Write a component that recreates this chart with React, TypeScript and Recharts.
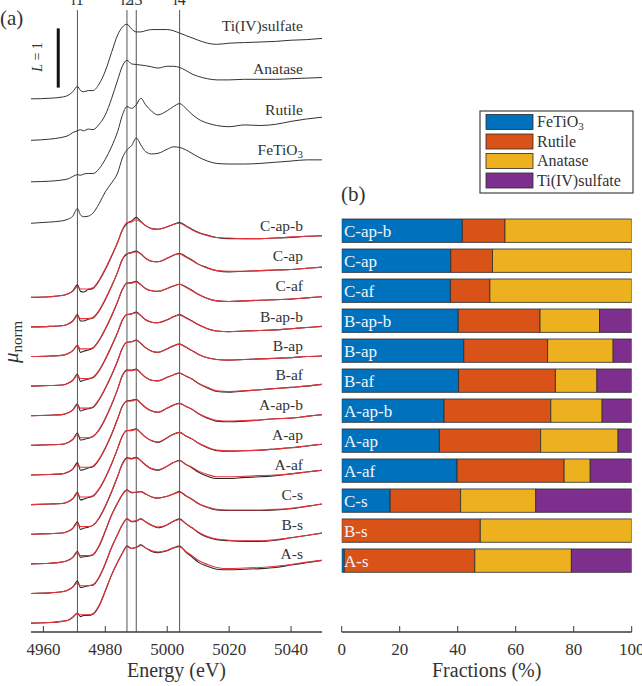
import React from 'react';
import { LineChart, Line, XAxis, YAxis, ReferenceLine, BarChart, Bar, Label } from 'recharts';

const FONT = "'Liberation Serif', 'DejaVu Serif', serif";
const FONT_STYLE = { fontFamily: FONT };

// ---------- Panel (a): XANES spectra ----------
const ENERGY = [4956, 4962, 4966, 4968, 4969.5, 4971, 4972, 4973, 4974.5, 4976, 4978, 4980, 4982, 4984, 4985.5, 4987, 4988.5, 4990, 4991.5, 4993, 4995, 4997, 5000, 5002, 5004, 5006, 5008, 5010, 5013, 5016, 5020, 5025, 5030, 5035, 5040, 5045, 5050];
const ENERGY_TICKS = [4960, 4980, 5000, 5020, 5040];
const FEATURE_LINES = [4971, 4987, 4990, 5004];
const FEATURE_NAMES = ['l1', 'l2', 'l3', 'l4'];

const SULFATE = [0, 0.01, 0.03, 0.06, 0.12, 0.21, 0.14, 0.12, 0.14, 0.14, 0.25, 0.47, 0.78, 1.08, 1.21, 1.26, 1.18, 1.13, 1.13, 1.15, 1.17, 1.17, 1.17, 1.15, 1.11, 1.07, 1.03, 0.99, 0.94, 0.92, 0.94, 0.95, 0.96, 0.97, 0.99, 1.0, 1.02];
const ANATASE = [0, 0.02, 0.05, 0.08, 0.13, 0.16, 0.18, 0.16, 0.19, 0.18, 0.27, 0.43, 0.7, 1.02, 1.25, 1.35, 1.29, 1.28, 1.27, 1.26, 1.24, 1.22, 1.25, 1.25, 1.23, 1.18, 1.12, 1.08, 1.04, 1.02, 1.02, 1.03, 1.03, 1.03, 1.04, 1.05, 1.06];
const RUTILE = [0, 0.01, 0.03, 0.05, 0.09, 0.12, 0.11, 0.13, 0.14, 0.14, 0.22, 0.38, 0.59, 0.85, 1.12, 1.27, 1.24, 1.3, 1.41, 1.3, 1.19, 1.13, 1.2, 1.27, 1.32, 1.24, 1.14, 1.06, 0.99, 0.95, 0.93, 0.96, 0.95, 0.97, 1.02, 1.06, 1.09];
const FETIO3 = [0, 0.02, 0.04, 0.07, 0.12, 0.25, 0.14, 0.11, 0.12, 0.17, 0.33, 0.53, 0.68, 0.85, 1.1, 1.24, 1.31, 1.44, 1.32, 1.21, 1.17, 1.18, 1.25, 1.29, 1.28, 1.24, 1.18, 1.12, 1.05, 1.01, 1.0, 1.0, 1.01, 1.03, 1.05, 1.07, 1.07];
const REF_NAMES = ['Ti(IV)sulfate', 'Anatase', 'Rutile', 'FeTiO3'];
const REF_OFFSETS = [9.0, 8.3, 7.6, 6.9];

const SAMPLE_NAMES = ['C-ap-b', 'C-ap', 'C-af', 'B-ap-b', 'B-ap', 'B-af', 'A-ap-b', 'A-ap', 'A-af', 'C-s', 'B-s', 'A-s'];
const SAMPLE_OFFSETS = [5.65, 5.15, 4.65, 4.15, 3.65, 3.15, 2.65, 2.15, 1.65, 1.15, 0.65, 0.15];

const DATA_CAPB = [0, 0.01, 0.03, 0.06, 0.11, 0.21, 0.1, 0.09, 0.13, 0.15, 0.28, 0.47, 0.69, 0.93, 1.13, 1.25, 1.29, 1.35, 1.28, 1.21, 1.16, 1.15, 1.19, 1.23, 1.26, 1.21, 1.15, 1.1, 1.05, 1.01, 0.99, 0.99, 0.99, 1.0, 1.01, 1.03, 1.04];
const DATA_CAP = [0, 0.01, 0.02, 0.05, 0.1, 0.21, 0.1, 0.1, 0.13, 0.15, 0.27, 0.46, 0.68, 0.93, 1.14, 1.23, 1.26, 1.28, 1.23, 1.16, 1.11, 1.1, 1.16, 1.21, 1.24, 1.19, 1.13, 1.06, 1.0, 0.95, 0.93, 0.94, 0.95, 0.96, 0.97, 0.99, 1.01];
const DATA_CAF = [0, 0.01, 0.02, 0.05, 0.1, 0.19, 0.07, 0.09, 0.11, 0.14, 0.27, 0.46, 0.68, 0.93, 1.13, 1.24, 1.25, 1.27, 1.21, 1.15, 1.11, 1.1, 1.15, 1.19, 1.22, 1.18, 1.12, 1.05, 0.98, 0.94, 0.93, 0.94, 0.95, 0.96, 0.97, 0.99, 1.01];
const DATA_BAPB = [0, 0.01, 0.02, 0.05, 0.1, 0.2, 0.08, 0.1, 0.12, 0.14, 0.26, 0.45, 0.67, 0.91, 1.11, 1.21, 1.22, 1.25, 1.19, 1.12, 1.08, 1.07, 1.12, 1.17, 1.21, 1.16, 1.1, 1.04, 0.97, 0.93, 0.92, 0.93, 0.94, 0.95, 0.97, 0.99, 1.01];
const DATA_BAP = [0, 0.01, 0.02, 0.05, 0.1, 0.2, 0.08, 0.1, 0.12, 0.14, 0.27, 0.46, 0.68, 0.93, 1.14, 1.24, 1.25, 1.28, 1.22, 1.15, 1.09, 1.07, 1.13, 1.18, 1.21, 1.16, 1.1, 1.04, 0.98, 0.95, 0.94, 0.95, 0.96, 0.97, 0.98, 1.0, 1.01];
const DATA_BAF = [0, 0.01, 0.02, 0.05, 0.1, 0.21, 0.09, 0.1, 0.12, 0.15, 0.26, 0.45, 0.68, 0.95, 1.18, 1.27, 1.27, 1.29, 1.22, 1.15, 1.1, 1.09, 1.15, 1.19, 1.22, 1.17, 1.12, 1.05, 0.97, 0.91, 0.9, 0.92, 0.94, 0.96, 0.98, 1.0, 1.03];
const DATA_AAPB = [0, 0.01, 0.02, 0.05, 0.1, 0.21, 0.08, 0.09, 0.12, 0.14, 0.26, 0.45, 0.68, 0.95, 1.16, 1.25, 1.26, 1.28, 1.21, 1.14, 1.08, 1.06, 1.13, 1.18, 1.21, 1.16, 1.11, 1.04, 0.96, 0.91, 0.9, 0.91, 0.93, 0.95, 0.96, 0.99, 1.02];
const DATA_AAP = [0, 0.01, 0.02, 0.05, 0.1, 0.21, 0.08, 0.09, 0.12, 0.14, 0.26, 0.45, 0.68, 0.95, 1.16, 1.25, 1.26, 1.28, 1.21, 1.14, 1.08, 1.05, 1.13, 1.19, 1.22, 1.16, 1.11, 1.04, 0.96, 0.91, 0.9, 0.91, 0.92, 0.94, 0.96, 0.99, 1.02];
const DATA_AAF = [0, 0.01, 0.02, 0.05, 0.1, 0.21, 0.08, 0.1, 0.12, 0.15, 0.27, 0.47, 0.71, 0.98, 1.19, 1.29, 1.28, 1.3, 1.24, 1.17, 1.1, 1.08, 1.15, 1.21, 1.25, 1.18, 1.12, 1.05, 0.98, 0.94, 0.94, 0.96, 0.97, 0.99, 1.02, 1.05, 1.08];
const DATA_CS = [0, 0.01, 0.03, 0.06, 0.11, 0.21, 0.11, 0.12, 0.13, 0.15, 0.3, 0.55, 0.82, 1.03, 1.17, 1.25, 1.2, 1.21, 1.22, 1.18, 1.13, 1.11, 1.14, 1.18, 1.22, 1.15, 1.09, 1.02, 0.95, 0.91, 0.9, 0.9, 0.9, 0.91, 0.93, 0.97, 1.01];
const DATA_BS = [0, 0.01, 0.03, 0.06, 0.11, 0.21, 0.1, 0.11, 0.13, 0.14, 0.27, 0.5, 0.77, 1.0, 1.16, 1.26, 1.21, 1.22, 1.26, 1.21, 1.15, 1.11, 1.16, 1.22, 1.26, 1.18, 1.11, 1.03, 0.95, 0.91, 0.89, 0.88, 0.88, 0.9, 0.94, 0.98, 1.02];
const DATA_AS = [0, 0.01, 0.03, 0.05, 0.1, 0.17, 0.11, 0.13, 0.13, 0.15, 0.29, 0.54, 0.81, 1.03, 1.18, 1.3, 1.26, 1.28, 1.32, 1.27, 1.21, 1.19, 1.22, 1.27, 1.3, 1.2, 1.12, 1.03, 0.96, 0.91, 0.9, 0.91, 0.92, 0.94, 0.98, 1.02, 1.06];

const FIT_CAPB = [0, 0.01, 0.03, 0.06, 0.1, 0.18, 0.14, 0.14, 0.14, 0.16, 0.29, 0.48, 0.7, 0.93, 1.14, 1.26, 1.27, 1.31, 1.27, 1.21, 1.16, 1.15, 1.19, 1.23, 1.25, 1.2, 1.14, 1.09, 1.04, 1.01, 1.0, 0.99, 0.99, 1.0, 1.02, 1.03, 1.04];
const FIT_CAP = [0, 0.01, 0.02, 0.05, 0.1, 0.18, 0.14, 0.14, 0.14, 0.16, 0.28, 0.47, 0.69, 0.93, 1.14, 1.24, 1.25, 1.27, 1.23, 1.16, 1.11, 1.1, 1.16, 1.21, 1.23, 1.18, 1.12, 1.06, 0.99, 0.95, 0.94, 0.94, 0.95, 0.96, 0.97, 0.99, 1.01];
const FIT_CAF = [0, 0.01, 0.02, 0.05, 0.1, 0.18, 0.13, 0.13, 0.13, 0.15, 0.28, 0.47, 0.69, 0.93, 1.13, 1.24, 1.24, 1.26, 1.21, 1.15, 1.11, 1.1, 1.15, 1.19, 1.22, 1.17, 1.11, 1.05, 0.98, 0.94, 0.93, 0.94, 0.95, 0.96, 0.97, 0.99, 1.01];
const FIT_BAPB = [0, 0.01, 0.02, 0.05, 0.1, 0.18, 0.13, 0.13, 0.13, 0.15, 0.27, 0.46, 0.68, 0.91, 1.12, 1.21, 1.22, 1.24, 1.19, 1.12, 1.08, 1.07, 1.12, 1.17, 1.2, 1.15, 1.1, 1.04, 0.97, 0.93, 0.92, 0.93, 0.94, 0.95, 0.97, 0.99, 1.01];
const FIT_BAP = [0, 0.01, 0.02, 0.05, 0.1, 0.18, 0.13, 0.13, 0.13, 0.15, 0.28, 0.47, 0.69, 0.93, 1.14, 1.24, 1.25, 1.27, 1.22, 1.15, 1.09, 1.07, 1.13, 1.18, 1.21, 1.16, 1.1, 1.04, 0.98, 0.95, 0.94, 0.95, 0.96, 0.97, 0.98, 1.0, 1.01];
const FIT_BAF = [0, 0.01, 0.02, 0.05, 0.1, 0.18, 0.13, 0.13, 0.13, 0.15, 0.27, 0.46, 0.69, 0.95, 1.17, 1.26, 1.26, 1.28, 1.22, 1.15, 1.1, 1.09, 1.15, 1.19, 1.22, 1.17, 1.12, 1.05, 0.98, 0.92, 0.91, 0.92, 0.94, 0.96, 0.98, 1.0, 1.03];
const FIT_AAPB = [0, 0.01, 0.02, 0.05, 0.1, 0.18, 0.13, 0.13, 0.13, 0.15, 0.27, 0.46, 0.69, 0.95, 1.16, 1.25, 1.25, 1.27, 1.21, 1.14, 1.08, 1.06, 1.13, 1.18, 1.21, 1.16, 1.11, 1.04, 0.97, 0.92, 0.91, 0.92, 0.93, 0.95, 0.96, 0.99, 1.02];
const FIT_AAP = [0, 0.01, 0.02, 0.05, 0.1, 0.18, 0.13, 0.13, 0.13, 0.15, 0.27, 0.46, 0.69, 0.95, 1.16, 1.25, 1.25, 1.27, 1.21, 1.14, 1.08, 1.06, 1.13, 1.19, 1.22, 1.16, 1.11, 1.04, 0.97, 0.92, 0.91, 0.91, 0.92, 0.94, 0.96, 0.99, 1.02];
const FIT_AAF = [0, 0.01, 0.02, 0.05, 0.1, 0.18, 0.13, 0.13, 0.13, 0.15, 0.28, 0.48, 0.72, 0.98, 1.18, 1.28, 1.27, 1.29, 1.24, 1.17, 1.11, 1.09, 1.15, 1.21, 1.24, 1.18, 1.13, 1.07, 1.01, 0.97, 0.97, 0.98, 0.99, 1.0, 1.02, 1.05, 1.08];
const FIT_CS = [0, 0.01, 0.03, 0.06, 0.11, 0.19, 0.14, 0.14, 0.14, 0.16, 0.31, 0.56, 0.82, 1.03, 1.17, 1.24, 1.21, 1.21, 1.22, 1.18, 1.13, 1.11, 1.14, 1.18, 1.21, 1.15, 1.09, 1.02, 0.96, 0.92, 0.91, 0.91, 0.91, 0.92, 0.94, 0.97, 1.01];
const FIT_BS = [0, 0.01, 0.03, 0.06, 0.11, 0.18, 0.13, 0.13, 0.13, 0.15, 0.28, 0.51, 0.78, 1.0, 1.16, 1.26, 1.22, 1.23, 1.26, 1.21, 1.15, 1.12, 1.16, 1.22, 1.25, 1.18, 1.11, 1.04, 0.96, 0.92, 0.9, 0.89, 0.89, 0.91, 0.94, 0.98, 1.02];
const FIT_AS = [0, 0.01, 0.03, 0.05, 0.1, 0.16, 0.14, 0.14, 0.14, 0.16, 0.3, 0.55, 0.81, 1.03, 1.18, 1.29, 1.26, 1.28, 1.31, 1.27, 1.22, 1.2, 1.23, 1.27, 1.29, 1.21, 1.14, 1.06, 0.99, 0.94, 0.92, 0.93, 0.94, 0.96, 0.99, 1.03, 1.06];

const REF_VALUES = [SULFATE, ANATASE, RUTILE, FETIO3];
const SAMPLE_DATA = [DATA_CAPB, DATA_CAP, DATA_CAF, DATA_BAPB, DATA_BAP, DATA_BAF, DATA_AAPB, DATA_AAP, DATA_AAF, DATA_CS, DATA_BS, DATA_AS];
const SAMPLE_FIT = [FIT_CAPB, FIT_CAP, FIT_CAF, FIT_BAPB, FIT_BAP, FIT_BAF, FIT_AAPB, FIT_AAP, FIT_AAF, FIT_CS, FIT_BS, FIT_AS];

// ---------- Panel (b): LCF fractions ----------
const FRAC_FETIO3 = [41.6, 37.6, 37.5, 40.2, 42.1, 40.3, 35.3, 33.7, 39.8, 16.7, 0, 0.9];
const FRAC_RUTILE = [14.7, 14.4, 13.6, 28.2, 28.9, 33.4, 36.8, 34.9, 36.9, 24.3, 47.8, 45.0];
const FRAC_ANATASE = [43.7, 48.0, 48.9, 20.5, 22.6, 14.3, 17.7, 26.7, 9.0, 25.9, 52.2, 33.3];
const FRAC_SULFATE = [0, 0, 0, 11.1, 6.4, 12.0, 10.2, 4.7, 14.3, 33.1, 0, 20.8];
const FRACTION_TICKS = [0, 20, 40, 60, 80, 100];

const COLORS = { fe: '#0072BD', rut: '#D95319', ana: '#EDB120', sul: '#7E2F8E' };
const LEGEND = [
  { label: 'FeTiO', sub: '3', color: COLORS.fe },
  { label: 'Rutile', sub: '', color: COLORS.rut },
  { label: 'Anatase', sub: '', color: COLORS.ana },
  { label: 'Ti(IV)sulfate', sub: '', color: COLORS.sul },
];

const lineData = ENERGY.map((e, i) => {
  const row: Record<string, number> = { E: e };
  REF_VALUES.forEach((vals, k) => {
    row['r' + k] = REF_OFFSETS[k] + vals[i];
  });
  SAMPLE_DATA.forEach((vals, k) => {
    row['d' + k] = SAMPLE_OFFSETS[k] + vals[i];
    row['f' + k] = SAMPLE_OFFSETS[k] + SAMPLE_FIT[k][i];
  });
  return row;
});

const barData = SAMPLE_NAMES.map((name, i) => ({
  name,
  pos: i,
  fe: FRAC_FETIO3[i],
  rut: FRAC_RUTILE[i],
  ana: FRAC_ANATASE[i],
  sul: FRAC_SULFATE[i],
}));

const AX = '#3a3a3a';
const TXT = '#333';

const REF_LABEL_Y = [31, 74, 115, 155];
const SAMPLE_LABEL_Y = [231, 261, 291, 321.5, 351, 380, 410, 440, 470, 499.5, 529.5, 559];

const noTick = () => <g />;

const BottomTick = (p: any) => (
  <text x={p.x} y={p.y} dy={12} textAnchor="middle" fontSize={17} fill={TXT} fontFamily={FONT} style={FONT_STYLE}>
    {p.payload.value}
  </text>
);

const axisTitle = (title: string) => (p: any) => {
  const vb = p.viewBox || {};
  return (
    <text x={vb.x + vb.width / 2} y={vb.y + vb.height - 9} textAnchor="middle" fontSize={20} fill={TXT} fontFamily={FONT} style={FONT_STYLE}>
      {title}
    </text>
  );
};

export default function App() {
  return (
    <div style={{ position: 'absolute', left: 0, top: 0, width: 642, height: 686, background: '#fff', fontFamily: FONT }}>
      <div style={{ position: 'absolute', left: 0, top: 0 }}>
        <LineChart width={330} height={686} data={lineData} margin={{ top: 10, right: 8, bottom: 0, left: 31 }} style={FONT_STYLE}>
          <XAxis
            dataKey="E"
            type="number"
            domain={[4956, 5050]}
            ticks={ENERGY_TICKS}
            interval={0}
            allowDataOverflow
            height={54}
            tickSize={-6}
            tickMargin={17}
            axisLine={{ stroke: AX, strokeWidth: 1.3 }}
            tickLine={{ stroke: AX }}
            tick={BottomTick}
          >
            <Label content={axisTitle('Energy (eV)')} />
          </XAxis>
          <XAxis
            xAxisId="top"
            orientation="top"
            type="number"
            domain={[4956, 5050]}
            ticks={ENERGY_TICKS}
            interval={0}
            allowDataOverflow
            height={0}
            tickSize={-6}
            axisLine={{ stroke: AX, strokeWidth: 1.3 }}
            tickLine={{ stroke: AX }}
            tick={noTick}
          />
          <YAxis type="number" domain={[0, 10.5]} allowDataOverflow width={0} tick={false} tickLine={false} axisLine={{ stroke: AX, strokeWidth: 1.3 }} />
          <YAxis yAxisId="right" orientation="right" type="number" domain={[0, 10.5]} width={0} tick={false} tickLine={false} axisLine={{ stroke: AX, strokeWidth: 1.3 }} />
          {FEATURE_LINES.map((x, k) => (
            <ReferenceLine
              key={'fl' + k}
              x={x}
              stroke="#555"
              strokeWidth={1}
              label={(p: any) => (
                <text x={p.viewBox.x} y={5} textAnchor="middle" fontSize={16} fill={TXT} fontFamily={FONT} style={FONT_STYLE}>
                  {FEATURE_NAMES[k]}
                </text>
              )}
            />
          ))}
          <ReferenceLine
            segment={[{ x: 4964.8, y: 9.19 }, { x: 4964.8, y: 10.19 }]}
            stroke="#111"
            strokeWidth={3}
          />
          {REF_NAMES.map((n, k) => (
            <Line key={'r' + k} dataKey={'r' + k} type="monotone" stroke="#333" strokeWidth={1} dot={false} isAnimationActive={false} />
          ))}
          {SAMPLE_NAMES.map((n, k) => (
            <Line key={'d' + k} dataKey={'d' + k} type="monotone" stroke="#2a2a2a" strokeWidth={1.1} dot={false} isAnimationActive={false} />
          ))}
          {SAMPLE_NAMES.map((n, k) => (
            <Line key={'f' + k} dataKey={'f' + k} type="monotone" stroke="#e8323a" strokeWidth={1.1} dot={false} isAnimationActive={false} />
          ))}
        </LineChart>
      </div>

      <div style={{ position: 'absolute', left: 330, top: 0 }}>
        <BarChart
          layout="vertical"
          width={312}
          height={686}
          data={barData}
          margin={{ top: 210, right: 10.3, bottom: 0, left: 11.7 }}
          barSize={23.4}
          style={FONT_STYLE}
        >
          <XAxis
            type="number"
            domain={[0, 100]}
            ticks={FRACTION_TICKS}
            interval={0}
            allowDataOverflow
            height={54}
            tickSize={-6}
            tickMargin={17}
            axisLine={{ stroke: AX, strokeWidth: 1.3 }}
            tickLine={{ stroke: AX }}
            tick={BottomTick}
          >
            <Label content={axisTitle('Fractions (%)')} />
          </XAxis>
          <XAxis
            xAxisId="top"
            orientation="top"
            type="number"
            domain={[0, 100]}
            ticks={FRACTION_TICKS}
            interval={0}
            height={0}
            tickSize={-6}
            axisLine={{ stroke: AX, strokeWidth: 1.3 }}
            tickLine={{ stroke: AX }}
            tick={noTick}
          />
          <YAxis
            type="number"
            dataKey="pos"
            domain={[-0.7, 13.37]}
            allowDataOverflow
            width={0}
            tick={false}
            tickLine={false}
            axisLine={{ stroke: AX, strokeWidth: 1.3 }}
          />
          <YAxis yAxisId="right" orientation="right" type="number" domain={[0, 1]} width={0} tick={false} tickLine={false} axisLine={{ stroke: AX, strokeWidth: 1.3 }} />
          <Bar dataKey="fe" stackId="s" fill={COLORS.fe} stroke="#2b2b2b" strokeWidth={0.8} isAnimationActive={false} />
          <Bar dataKey="rut" stackId="s" fill={COLORS.rut} stroke="#2b2b2b" strokeWidth={0.8} isAnimationActive={false} />
          <Bar dataKey="ana" stackId="s" fill={COLORS.ana} stroke="#2b2b2b" strokeWidth={0.8} isAnimationActive={false} />
          <Bar dataKey="sul" stackId="s" fill={COLORS.sul} stroke="#2b2b2b" strokeWidth={0.8} isAnimationActive={false} />
        </BarChart>
      </div>

      {/* text overlay */}
      <svg width={642} height={686} style={{ position: 'absolute', left: 0, top: 0, pointerEvents: 'none', fontFamily: FONT }} fontFamily={FONT}>
        <text x={0} y={25} fontSize={21} fill={TXT}>(a)</text>
        <text x={341} y={201} fontSize={21} fill={TXT}>(b)</text>
        <text transform="translate(18,342) rotate(-90)" textAnchor="middle" fill={TXT}>
          <tspan fontSize={21} fontStyle="italic">μ</tspan>
          <tspan fontSize={15} dy={4}>norm</tspan>
        </text>
        <text transform="translate(42,57) rotate(-90)" textAnchor="middle" fill={TXT} fontSize={14}>
          <tspan fontStyle="italic">L</tspan> = 1
        </text>
        {REF_NAMES.map((n, k) => (
          <text key={'rl' + k} x={303} y={REF_LABEL_Y[k]} textAnchor="end" fontSize={15.5} fill={TXT}>
            {n === 'FeTiO3' ? (<>FeTiO<tspan fontSize={11} dy={3}>3</tspan></>) : n}
          </text>
        ))}
        {SAMPLE_NAMES.map((n, k) => (
          <text key={'sl' + k} x={303} y={SAMPLE_LABEL_Y[k]} textAnchor="end" fontSize={15.5} fill={TXT}>{n}</text>
        ))}
        {SAMPLE_NAMES.map((n, k) => (
          <text key={'bl' + k} x={344} y={231 + 30 * k} dy="0.35em" fontSize={17} fill="#f2f4fb">{n}</text>
        ))}
        <rect x={480} y={111} width={153} height={82} fill="#fff" stroke="#444" strokeWidth={1.2} />
        {LEGEND.map((l, k) => (
          <g key={'lg' + k}>
            <rect x={486} y={114.5 + 19.5 * k} width={47} height={15} fill={l.color} stroke="#2b2b2b" strokeWidth={0.8} />
            <text x={537} y={127 + 19.5 * k} fontSize={16} fill={TXT}>
              {l.label}
              {l.sub ? <tspan fontSize={11} dy={3}>{l.sub}</tspan> : null}
            </text>
          </g>
        ))}
      </svg>
    </div>
  );
}
